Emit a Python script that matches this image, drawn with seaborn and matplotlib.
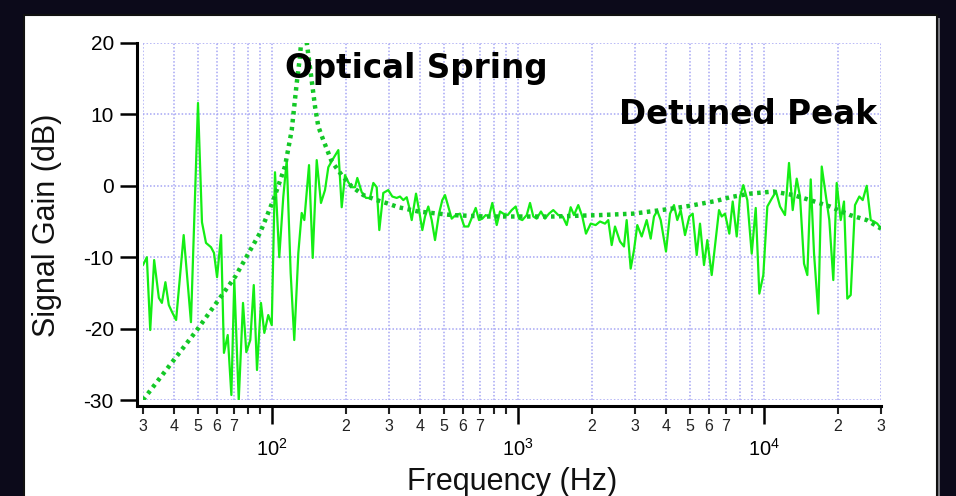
import matplotlib
matplotlib.use("Agg")
import matplotlib.pyplot as plt
import seaborn as sns
import pandas as pd
from matplotlib.patches import Rectangle
from matplotlib.ticker import FixedLocator, FixedFormatter

# ---------------- data ----------------
meas_freq = [
    30.0, 31.1, 32.1, 33.3, 34.8, 35.8, 37.0, 38.2, 39.4, 40.9, 43.9, 47.0, 50.2, 52.1, 54.1, 56.7,
    58.3, 60.0, 62.3, 64.0, 66.3, 68.6, 70.5, 73.5, 76.5, 78.9, 81.9, 84.6, 87.2, 90.5, 93.4,
    96.9, 100.1, 103.2, 107.4, 111.5, 115.2, 119.5, 123.6, 128.4, 132.5, 135.8, 141.9, 146.9, 152.5,
    158.7, 164.8, 170.0, 179.3, 186.7, 192.7, 198.8, 205.0, 211.6, 218.3, 223.0, 232.4, 241.9, 251.2,
    259.1, 267.4, 274.0, 284.4, 298.0,
    309.4, 322.4, 332.5, 343.0, 354.1, 361.8, 371.1, 386.3, 397.3, 409.8, 420.3, 433.4, 447.4, 461.5,
    479.1, 494.1, 506.8, 522.7, 539.6, 560.1, 583.1, 607.1, 630.2, 654.2, 675.4, 696.6, 718.5, 741.7,
    765.0, 789.0, 822.2, 848.0, 874.6, 911.4, 946.1, 982.2, 1013, 1045, 1089, 1123, 1158, 1195, 1244,
    1292, 1341, 1396,
    1463, 1525, 1583, 1643, 1695, 1764, 1832, 1896, 1982, 2076, 2162, 2265, 2336, 2412, 2488, 2607,
    2706, 2775, 2881, 2972, 3065, 3194, 3347, 3475, 3584, 3696, 3816, 4010, 4163, 4321, 4457, 4601,
    4791, 4988, 5149, 5345, 5513, 5723, 5903, 6151,
    6587, 6755, 6967, 7253, 7487, 7773, 8017, 8268, 8584, 8945, 9287, 9605, 9971, 10352, 10787, 11229,
    11658, 12215, 12681, 13128, 13629, 14058, 14595, 15054, 15540, 16029, 16686, 17226, 17928, 18492,
    19197, 19818, 20574, 21219, 21885, 22593, 23523, 24489, 25281, 26247, 27249, 28104, 28986, 30000,
]
meas_gain = [
    -11.1, -10.0, -20.2, -10.4, -15.7, -16.4, -13.5, -16.7, -17.7, -18.8, -6.9, -19.1, 11.6, -5.1, -8.0, -8.6,
    -9.4, -12.8, -6.9, -23.4, -20.9, -29.3, -13.2, -30.0, -16.4, -23.3, -21.6, -13.9, -25.8, -16.4, -20.6,
    -18.1, -19.5, 1.9, -10.0, -1.6, 3.6, -12.2, -21.6, -9.4, -3.8, -4.8, 2.9, -10.1, 3.6,
    -2.4, -0.6, 2.6, 4.0, 5.0, -3.0, 1.5, 0.5, -0.2, -0.2, 1.1, -0.9, -1.7, -1.7,
    0.4, -0.2, -6.2, -1.0, -0.6,
    -1.5, -1.7, -1.5, -2.0, -1.6, -2.9, -4.8, -1.1, -3.4, -6.2, -4.3, -2.9, -4.8, -7.6,
    -3.9, -2.0, -1.3, -2.9, -4.6, -4.1, -3.9, -5.7, -5.7, -4.3, -3.1, -4.8, -4.6, -4.1,
    -4.3, -2.4, -5.5, -3.6, -3.9, -4.1, -3.4, -2.9, -4.6, -4.8, -4.1, -2.4, -4.3, -4.6, -3.6,
    -4.6, -3.9, -3.4,
    -4.1, -4.3, -5.5, -3.0, -4.1, -2.7, -4.3, -6.7, -5.3, -5.5, -5.0, -5.3, -4.8, -8.3, -5.7, -7.8,
    -8.5, -4.8, -11.6, -9.0, -5.5, -7.1, -4.8, -7.4, -4.3, -3.5, -4.8, -9.2, -3.9, -2.7, -4.8, -3.4,
    -6.9, -4.3, -3.9, -9.7, -5.3, -11.1, -7.6, -12.5,
    -3.4, -4.3, -3.9, -6.7, -2.2, -7.1, -1.5, 0.1, -2.0, -9.5, -3.1, -15.1, -12.5, -2.9, -1.8, -0.8,
    -2.9, -4.1, 3.2, -3.4, 1.0, -1.5, -10.9, -12.5, 0.9, -9.5, -17.9, 2.7, -1.5, -4.8,
    -13.2, 0.4, -4.8, -2.2, -15.8, -15.3, -2.7, -1.5, -2.0, 0.0, -4.8, -5.0, -5.3, -6.0,
]
model_freq = [
    30.0, 49.7, 71.2, 89.7, 94.2, 101.6, 113.3, 120.7, 126.5, 130.4, 134.5, 139.2, 144.2, 150.1,
    154.8, 162.2, 175.5, 192.7, 211.6, 235.9, 267.4, 298.0, 327.3, 394.7, 539.6, 736.9, 1006, 1396,
    2162, 2953, 4036, 5019, 6446, 7300, 8804, 10950, 13203, 15438, 18615, 22446, 26247, 30000,
]
model_gain = [
    -30.0, -20.2, -12.7, -6.6, -4.8, -2.0, 2.7, 7.8, 14.4, 18.1, 24.0, 19.8, 15.8, 11.1,
    8.3, 6.4, 3.4, 1.5, -0.1, -1.3, -2.0, -2.5, -3.0, -3.6, -4.1, -4.3, -4.3, -4.3,
    -4.1, -3.9, -3.3, -2.8, -2.1, -1.6, -1.1, -0.8, -1.3, -2.0, -2.9, -4.1, -4.8, -6.0,
]

y_ticks = [-30, -20, -10, 0, 10, 20]
x_major = [100, 1000, 10000]
x_major_labels = [r"$\mathregular{10^{2}}$", r"$\mathregular{10^{3}}$", r"$\mathregular{10^{4}}$"]
x_minor = [30, 40, 50, 60, 70, 80, 90,
           200, 300, 400, 500, 600, 700, 800, 900,
           2000, 3000, 4000, 5000, 6000, 7000, 8000, 9000,
           20000, 30000]
x_minor_labels = ["3", "4", "5", "6", "7", "", "",
                  "2", "3", "4", "5", "6", "7", "", "",
                  "2", "3", "4", "5", "6", "7", "", "",
                  "2", "3"]

meas = pd.DataFrame({"freq": meas_freq, "gain": meas_gain})
model = pd.DataFrame({"freq": model_freq, "gain": model_gain})

# ---------------- style ----------------
sns.set_style("white")
plt.rcParams["font.family"] = ["Liberation Sans", "DejaVu Sans"]
plt.rcParams["mathtext.fontset"] = "custom"
plt.rcParams["mathtext.rm"] = "Liberation Sans"

W, H = 956, 496
fig = plt.figure(figsize=(W / 100, H / 100), dpi=100, facecolor="#0c0a1a")

# white panel with black frame and grey shadow (drawn beneath the axes)
fig.patches.append(Rectangle((27 / W, -0.05), (940 - 27) / W, 1 - 18 / H + 0.05,
                             transform=fig.transFigure, facecolor="#7a7a80",
                             edgecolor="none", zorder=-20))
fig.patches.append(Rectangle((24 / W, -0.05), (937 - 24) / W, 1 - 15 / H + 0.05,
                             transform=fig.transFigure, facecolor="white",
                             edgecolor="#111111", lw=1.5, zorder=-10))

ax = fig.add_axes([143 / W, 1 - 400 / H, 738 / W, 357 / H])
ax.set_zorder(1)
ax.set_facecolor("white")
ax.set_xscale("log")

grid_col = "#a6a6f4"
sns.lineplot(data=meas, x="freq", y="gain", ax=ax, estimator=None, sort=False,
             color="#14ee14", lw=1.6, legend=False, zorder=3)
sns.lineplot(data=model, x="freq", y="gain", ax=ax, estimator=None, sort=False,
             color="#13c826", lw=3.2, legend=False, zorder=4)
ax.lines[-1].set_linestyle((0, (0.8, 1.0)))
ax.lines[-1].set_dash_capstyle("butt")

ax.set_xlim(30, 30000)
ax.set_ylim(-30, 20)

ax.set_yticks(y_ticks)
ax.set_yticklabels([str(v) for v in y_ticks])
ax.xaxis.set_major_locator(FixedLocator(x_major))
ax.xaxis.set_major_formatter(FixedFormatter(x_major_labels))
ax.xaxis.set_minor_locator(FixedLocator(x_minor))
ax.xaxis.set_minor_formatter(FixedFormatter(x_minor_labels))

ax.grid(True, which="major", axis="y", color=grid_col, linestyle=(0, (1, 1.3)), lw=1.1)
ax.grid(True, which="both", axis="x", color=grid_col, linestyle=(0, (1, 1.3)), lw=1.1)
ax.set_axisbelow(True)

for s in ("top", "right"):
    ax.spines[s].set_visible(False)
for s in ("left", "bottom"):
    ax.spines[s].set_visible(True)
    ax.spines[s].set_color("black")
    ax.spines[s].set_linewidth(2.2)
    ax.spines[s].set_position(("outward", 4))
ax.spines["left"].set_bounds(-30.75, 20)
ax.spines["bottom"].set_bounds(28.4, 30000)

ax.tick_params(axis="y", which="major", direction="out", length=12, width=1.8,
               labelsize=15, pad=5, colors="black", left=True)
ax.tick_params(axis="x", which="major", direction="out", length=13, width=1.8,
               labelsize=14.5, pad=10, colors="black", bottom=True)
ax.tick_params(axis="x", which="minor", direction="out", length=6, width=1.5,
               labelsize=11.5, pad=4, colors="#222222", bottom=True)

ax.set_xlabel("Frequency (Hz)", fontsize=22, color="#111111")
ax.xaxis.label.set_va("baseline")
ax.xaxis.set_label_coords(0.5, (400 - 490) / 357)
ax.set_ylabel("Signal Gain (dB)", fontsize=22, color="#111111")
ax.yaxis.label.set_va("baseline")
ax.yaxis.set_label_coords((55 - 143) / 738, 0.49)

fig.text(285 / W, 1 - 78 / H, "Optical Spring", fontsize=23.5, fontweight="bold",
         family=["DejaVu Sans"], color="black", ha="left", va="baseline", zorder=10)
fig.text(877 / W, 1 - 124 / H, "Detuned Peak", fontsize=23.5, fontweight="bold",
         family=["DejaVu Sans"], color="black", ha="right", va="baseline", zorder=10)

fig.savefig("out.png", dpi=100, facecolor=fig.get_facecolor())
